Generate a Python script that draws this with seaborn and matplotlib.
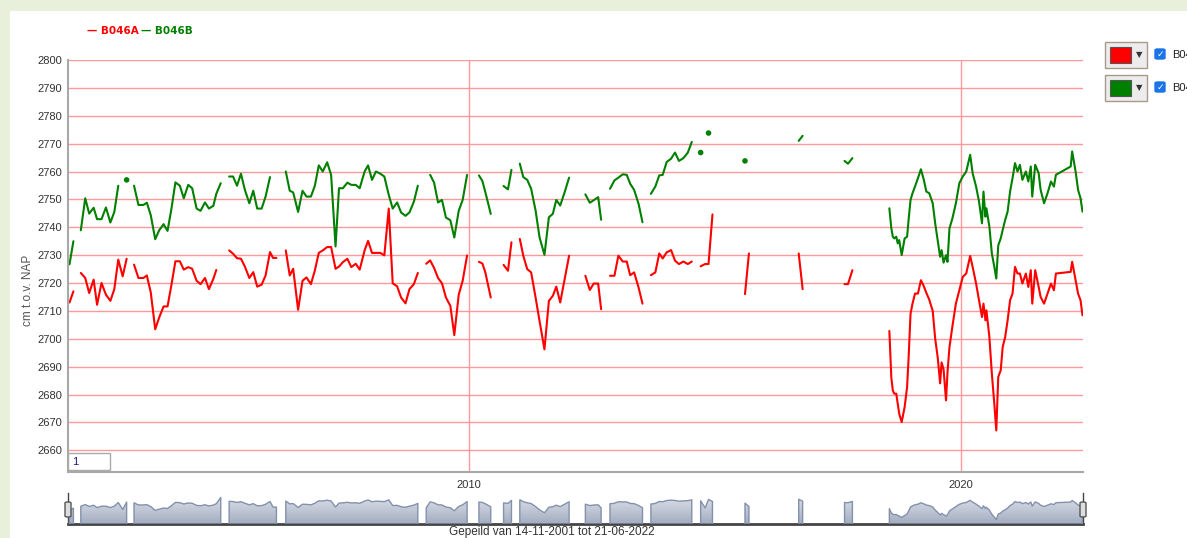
import numpy as np
import pandas as pd
import matplotlib
matplotlib.use('Agg')
import matplotlib.pyplot as plt
import matplotlib.patches as mpatches
from matplotlib.path import Path
from matplotlib.colors import LinearSegmentedColormap
import seaborn as sns

nan = np.nan

# peilbuis B046, filters A en B (cm t.o.v. NAP), nan = onderbreking in de meetreeks
jaar = [
    2001.90, 2001.98, 2002.05,
    2002.13, 2002.22, 2002.30, 2002.39, 2002.46, 2002.55, 2002.64, 2002.73, 2002.81, 2002.89, 2002.98, 2003.06, 2003.13,
    2003.21, 2003.30, 2003.40, 2003.47, 2003.55, 2003.64, 2003.72, 2003.81, 2003.89, 2003.97, 2004.05,
    2004.14, 2004.22, 2004.31, 2004.39, 2004.48, 2004.56, 2004.65, 2004.73, 2004.82, 2004.88, 2004.97, 2005.05,
    2005.14, 2005.22, 2005.30, 2005.38, 2005.46, 2005.55, 2005.63, 2005.71, 2005.80, 2005.88, 2005.97, 2006.03, 2006.10, 2006.20,
    2006.29, 2006.37, 2006.44, 2006.54, 2006.63, 2006.71, 2006.80, 2006.88, 2006.96, 2007.04, 2007.13,
    2007.21, 2007.30, 2007.37, 2007.45, 2007.54, 2007.62, 2007.71, 2007.79, 2007.89, 2007.96,
    2008.04, 2008.12, 2008.21, 2008.29, 2008.38, 2008.46, 2008.55, 2008.63, 2008.72, 2008.80, 2008.89, 2008.97, 2009.05,
    2009.14, 2009.22, 2009.30, 2009.38, 2009.46, 2009.54, 2009.63, 2009.71, 2009.80, 2009.88, 2009.97, 2010.10,
    2010.21, 2010.28, 2010.34, 2010.45, 2010.60,
    2010.71, 2010.80, 2010.87, 2010.95,
    2011.04, 2011.11, 2011.19, 2011.27, 2011.36, 2011.44, 2011.54, 2011.63, 2011.71, 2011.78, 2011.86, 2011.95, 2012.04, 2012.20,
    2012.37, 2012.46, 2012.54, 2012.63, 2012.69, 2012.78,
    2012.87, 2012.96, 2013.04, 2013.13, 2013.21, 2013.28, 2013.36, 2013.45, 2013.53, 2013.62,
    2013.70, 2013.79, 2013.87, 2013.94, 2014.02, 2014.11, 2014.19, 2014.27, 2014.36, 2014.45, 2014.53, 2014.62,
    2014.71, 2014.80, 2014.87, 2014.95, 2015.30,
    2015.61, 2015.69, 2016.20,
    2016.70, 2016.78, 2017.20,
    2017.63, 2017.70, 2017.79, 2018.20,
    2018.54, 2018.58, 2018.61, 2018.64, 2018.68, 2018.71, 2018.74, 2018.79, 2018.85, 2018.90,
    2018.93, 2018.97, 2019.01, 2019.06, 2019.12, 2019.18, 2019.24, 2019.29, 2019.35, 2019.42,
    2019.47, 2019.52, 2019.57, 2019.60, 2019.64, 2019.69, 2019.72, 2019.76, 2019.82, 2019.89,
    2019.96, 2020.03, 2020.10, 2020.18, 2020.23, 2020.30, 2020.36, 2020.42,
    2020.45, 2020.49, 2020.51, 2020.57, 2020.62, 2020.67, 2020.71, 2020.75, 2020.80, 2020.84,
    2020.89, 2020.94, 2020.99, 2021.04, 2021.09, 2021.14, 2021.19, 2021.24, 2021.31, 2021.36,
    2021.41, 2021.44, 2021.50, 2021.57, 2021.61, 2021.68, 2021.75, 2021.82, 2021.88, 2021.92,
    2022.22, 2022.25, 2022.32, 2022.37, 2022.42, 2022.46,
]

b046a = [
    2713.0, 2717.0, nan,
    2723.6, 2721.8, 2716.4, 2721.2, 2712.2, 2720.0, 2715.8, 2713.6, 2717.8, 2728.4, 2722.4, 2728.7, nan,
    2726.6, 2721.8, 2721.8, 2722.7, 2716.6, 2703.4, 2707.6, 2711.6, 2711.6, 2719.4, 2727.8,
    2727.8, 2724.8, 2725.7, 2725.1, 2720.8, 2719.6, 2721.8, 2717.8, 2721.5, 2724.7, nan, nan,
    2731.7, 2730.5, 2728.9, 2728.7, 2725.9, 2721.8, 2723.9, 2718.7, 2719.4, 2722.7, 2731.1, 2729.0, 2729.0, nan,
    2731.7, 2722.7, 2725.1, 2710.4, 2720.8, 2722.0, 2719.6, 2724.5, 2730.8, 2731.7, 2732.9,
    2732.9, 2725.1, 2725.9, 2727.5, 2728.7, 2725.7, 2726.9, 2724.8, 2731.7, 2735.1,
    2730.8, 2730.8, 2730.8, 2729.9, 2746.7, 2719.9, 2718.8, 2714.8, 2712.7, 2717.8, 2719.6, 2723.6, nan,
    2726.9, 2728.1, 2725.4, 2721.8, 2719.9, 2714.8, 2711.8, 2701.3, 2715.8, 2720.8, 2729.9, nan,
    2727.6, 2727.0, 2723.8, 2714.8, nan,
    2726.5, 2724.4, 2734.6, nan,
    2735.8, 2729.8, 2725.0, 2723.8, 2714.8, 2706.4, 2696.2, 2713.6, 2715.4, 2718.7, 2713.0, 2721.4, 2729.8, nan,
    2722.6, 2717.5, 2719.8, 2719.8, 2710.6, nan,
    2722.6, 2722.6, 2729.8, 2727.7, 2727.7, 2722.8, 2723.8, 2718.4, 2712.6, nan,
    2722.8, 2723.8, 2730.6, 2728.8, 2731.0, 2731.8, 2728.0, 2726.8, 2727.7, 2726.8, 2727.7, nan,
    2726.0, 2726.8, 2726.8, 2744.6, nan,
    2716.0, 2730.6, nan,
    2730.6, 2717.8, nan,
    2719.6, 2719.6, 2724.6, nan,
    2702.8, 2686.0, 2681.5, 2680.3, 2680.3, 2676.7, 2673.1, 2670.1, 2675.5, 2682.7,
    2693.0, 2709.0, 2712.6, 2716.2, 2716.2, 2721.0, 2718.8, 2716.5, 2714.0, 2710.0,
    2700.0, 2693.5, 2684.0, 2691.5, 2689.0, 2677.9, 2688.0, 2697.0, 2704.5, 2712.6,
    2717.4, 2722.2, 2723.4, 2729.7, 2725.8, 2719.8, 2713.8, 2707.8,
    2712.6, 2706.6, 2710.2, 2700.6, 2687.5, 2676.7, 2667.1, 2686.3, 2688.7, 2697.0,
    2700.6, 2706.6, 2713.8, 2716.2, 2725.8, 2723.4, 2723.4, 2719.8, 2723.4, 2718.6,
    2724.6, 2712.6, 2724.6, 2718.6, 2715.0, 2712.6, 2716.2, 2719.8, 2717.4, 2723.4,
    2724.0, 2727.6, 2721.0, 2716.2, 2713.8, 2708.4,
]

b046b = [
    2726.7, 2735.0, nan,
    2738.9, 2750.4, 2744.9, 2747.0, 2742.9, 2742.9, 2747.1, 2741.7, 2745.5, 2754.9, nan, 2757.0, nan,
    2754.9, 2748.0, 2748.0, 2748.8, 2744.3, 2735.7, 2738.9, 2741.1, 2738.7, 2746.7, 2756.1,
    2754.9, 2750.4, 2755.2, 2754.0, 2746.7, 2745.9, 2748.9, 2746.7, 2747.7, 2752.0, 2755.8, nan,
    2758.2, 2758.2, 2754.9, 2759.2, 2753.4, 2748.6, 2753.1, 2746.7, 2746.7, 2751.0, 2758.0, nan, nan, nan,
    2760.0, 2753.1, 2752.5, 2745.5, 2753.1, 2751.0, 2751.0, 2754.9, 2762.2, 2760.0, 2763.3,
    2758.8, 2733.1, 2754.0, 2754.0, 2756.0, 2755.2, 2755.2, 2754.0, 2760.0, 2762.2,
    2757.0, 2760.0, 2759.2, 2758.2, 2751.6, 2746.7, 2748.9, 2745.3, 2744.1, 2745.3, 2749.2, 2754.9, nan,
    nan, 2758.8, 2756.0, 2748.9, 2749.8, 2743.5, 2742.5, 2736.3, 2745.9, 2749.8, 2758.8, nan,
    2758.6, 2756.6, 2752.6, 2744.8, nan,
    2754.8, 2753.6, 2760.6, nan,
    2762.8, 2758.0, 2757.0, 2753.8, 2746.0, 2736.4, 2730.1, 2743.6, 2744.8, 2749.8, 2747.8, 2752.6, 2757.8, nan,
    2751.8, 2748.8, 2749.7, 2750.8, 2742.7, nan,
    2753.8, 2756.8, 2757.8, 2759.0, 2758.8, 2755.6, 2753.4, 2748.4, 2741.8, nan,
    2752.0, 2754.6, 2758.6, 2758.8, 2763.4, 2764.6, 2766.8, 2763.8, 2764.8, 2766.8, 2770.6, nan,
    2766.8, nan, 2773.8, nan, nan,
    2763.8, nan, nan,
    2771.0, 2772.8, nan,
    2763.8, 2762.8, 2764.8, nan,
    2746.8, 2739.6, 2736.6, 2736.0, 2736.6, 2734.2, 2735.4, 2730.0, 2736.0, 2736.6,
    2742.6, 2749.8, 2752.2, 2754.6, 2757.6, 2760.8, 2757.0, 2752.8, 2752.2, 2748.6,
    2741.4, 2735.4, 2729.4, 2731.8, 2727.3, 2730.0, 2727.6, 2739.6, 2743.2, 2748.6,
    2755.8, 2758.2, 2760.0, 2766.0, 2759.4, 2754.6, 2749.2, 2741.4,
    2752.8, 2743.8, 2746.8, 2740.2, 2730.6, 2725.8, 2721.6, 2733.5, 2736.0, 2739.0,
    2742.6, 2745.6, 2752.8, 2757.6, 2763.0, 2760.0, 2762.4, 2757.0, 2760.0, 2756.4,
    2761.8, 2751.0, 2762.4, 2759.4, 2753.4, 2748.6, 2752.2, 2756.4, 2754.6, 2758.8,
    2761.8, 2767.2, 2760.0, 2753.4, 2750.4, 2745.6,
]

filters = ['B046A', 'B046B']
kleuren = {'B046A': '#ff0000', 'B046B': '#008000'}
jaar_ticks = [2010, 2020]
peil_ticks = list(range(2660, 2801, 10))
periode = 'Gepeild van 14-11-2001 tot 21-06-2022'
x_bereik = (2001.87, 2022.47)

assert len(jaar) == len(b046a) == len(b046b)

df = pd.DataFrame({'jaar': jaar, 'B046A': b046a, 'B046B': b046b})
lang = df.melt(id_vars='jaar', var_name='filter', value_name='peil')
# elk stuk tussen twee gaten wordt een eigen lijn
lang['seg'] = lang.groupby('filter')['peil'].transform(lambda s: s.isna().cumsum())
lang = lang.dropna(subset=['peil'])
n = lang.groupby(['filter', 'seg'])['peil'].transform('size')
lijnen = lang[n > 1]
punten = lang[n == 1]

sns.set_style('white')
plt.rcParams['font.family'] = ['Liberation Sans', 'DejaVu Sans']

W, H = 1187, 538
fig = plt.figure(figsize=(W / 100, H / 100), dpi=100)
fig.patch.set_facecolor('#e8f0dc')


def box(x, y, w, h, **kw):
    # rechthoek in pixels, oorsprong linksboven
    p = mpatches.Rectangle((x / W, 1 - (y + h) / H), w / W, h / H,
                           transform=fig.transFigure, **kw)
    fig.patches.append(p)
    return p


def txt(x, y, s, **kw):
    return fig.text(x / W, 1 - y / H, s, **kw)


box(10, 11, W - 10, H - 11, facecolor='white', edgecolor='none', zorder=-10)

# hoofdgrafiek
ax = fig.add_axes([68 / W, (H - 472) / H, 1015 / W, 412 / H])
ax.set_facecolor('none')
sns.lineplot(data=lijnen, x='jaar', y='peil', hue='filter', units='seg',
             estimator=None, sort=False, palette=kleuren, linewidth=1.5,
             legend=False, ax=ax)
sns.scatterplot(data=punten, x='jaar', y='peil', hue='filter', palette=kleuren,
                s=16, linewidth=0, legend=False, ax=ax)
ax.set_xlim(*x_bereik)
ax.set_ylim(2652.2, 2800)
ax.set_xticks(jaar_ticks)
ax.set_xticklabels([str(j) for j in jaar_ticks])
ax.set_yticks(peil_ticks)
ax.set_yticklabels([str(p) for p in peil_ticks])
ax.tick_params(length=0, labelsize=8, labelcolor='#333333')
ax.tick_params(axis='y', pad=4)
ax.tick_params(axis='x', pad=6)
ax.grid(True, color='#ff9999', linewidth=1.0)
ax.set_axisbelow(True)
ax.set_xlabel('')
ax.set_ylabel('')
for side in ['top', 'right']:
    ax.spines[side].set_visible(False)
for side in ['left', 'bottom']:
    ax.spines[side].set_color('#a8a8a8')
    ax.spines[side].set_linewidth(1.5)

txt(28, 290, 'cm t.o.v. NAP', rotation=90, ha='center', va='center',
    fontsize=8.5, color='#555555')

# legenda bovenaan
txt(87, 31, '— B046A', color=kleuren['B046A'], fontsize=7.5, fontweight='bold',
    family='DejaVu Sans', va='center')
txt(141, 31, '— B046B', color=kleuren['B046B'], fontsize=7.5, fontweight='bold',
    family='DejaVu Sans', va='center')

# invoerveld rolling average
box(68, 453, 42, 17, facecolor='white', edgecolor='#aaaaaa', linewidth=1, zorder=5)
txt(72, 462, '1', fontsize=8, color='#1a1a80', va='center', zorder=6)

# kleurkiezers en vinkjes rechts
for i, f in enumerate(filters):
    y0 = 42 + 33 * i
    box(1105, y0, 42, 26, facecolor='#ececec', edgecolor='#a89a8a', linewidth=1)
    box(1110, y0 + 5, 21, 16, facecolor=kleuren[f], edgecolor='#555555', linewidth=0.8)
    txt(1139, y0 + 13, '▼', fontsize=6, color='#333333', ha='center', va='center',
        family='DejaVu Sans')
    cb = mpatches.FancyBboxPatch(((1155) / W, 1 - (y0 + 17) / H), 10 / W, 10 / H,
                                 boxstyle='round,pad=0,rounding_size=0.002',
                                 transform=fig.transFigure, facecolor='#1a73e8',
                                 edgecolor='#1a73e8')
    fig.patches.append(cb)
    txt(1160, y0 + 12, '✓', fontsize=6.5, color='white', ha='center', va='center',
        family='DejaVu Sans', fontweight='bold')
    txt(1172, y0 + 13, f, fontsize=8, color='#222222', va='center')

# overzichtsbalk (range selector)
mini = fig.add_axes([68 / W, (H - 524) / H, 1015 / W, 31 / H])
mini.set_facecolor('none')
gem = df[filters].mean(axis=1)
lo, hi = gem.min(), gem.max()
rng = hi - lo
basis = lo - 0.2 * rng
top = hi + 0.2 * rng
vlak = mini.fill_between(df['jaar'], gem, basis, facecolor='none',
                         edgecolor='#8391ab', linewidth=1.0, zorder=3)
cmap = LinearSegmentedColormap.from_list('rs', ['#a3adc1', '#e2e5ec'])
grad = mini.imshow(np.linspace(0, 1, 64).reshape(-1, 1), cmap=cmap, aspect='auto',
                   origin='lower', extent=[x_bereik[0], x_bereik[1], basis, top],
                   zorder=2)
grad.set_clip_path(Path.make_compound_path(*vlak.get_paths()), mini.transData)
mini.set_xlim(*x_bereik)
mini.set_ylim(basis, top)
mini.set_xticks([])
mini.set_yticks([])
mini.spines['top'].set_visible(False)
mini.spines['bottom'].set_color('#444444')
mini.spines['bottom'].set_linewidth(2)
for side in ['left', 'right']:
    mini.spines[side].set_color('#444444')
    mini.spines[side].set_linewidth(1)

for hx in [68, 1083]:
    h = mpatches.FancyBboxPatch(((hx - 3) / W, 1 - 517 / H), 6 / W, 15 / H,
                                boxstyle='round,pad=0,rounding_size=0.002',
                                transform=fig.transFigure, facecolor='#dddddd',
                                edgecolor='#555555', linewidth=1, zorder=10)
    fig.patches.append(h)

txt(552, 532, periode, ha='center', va='center', fontsize=8.5, color='#333333')

fig.savefig('out.png', dpi=100, facecolor=fig.get_facecolor())
